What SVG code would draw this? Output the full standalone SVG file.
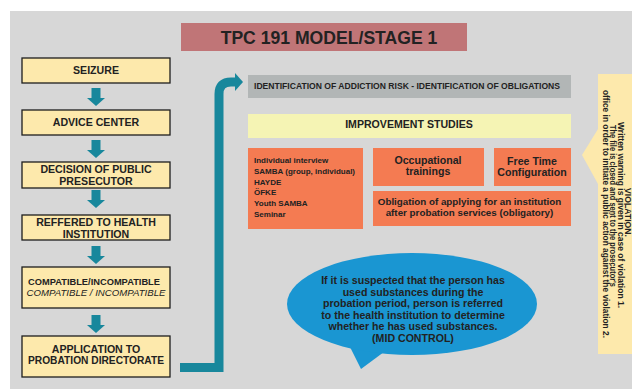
<svg xmlns="http://www.w3.org/2000/svg" width="632" height="389" viewBox="0 0 632 389">
<defs>
<style>
.t{font-family:"Liberation Sans",Arial,sans-serif;font-weight:bold;fill:#222;}
.box{fill:#fde9ac;stroke:#1e1e1e;stroke-width:1.3;}
.org{fill:#f47b52;}
.arr{fill:#18879c;}
.m{text-anchor:middle;}
</style>
<path id="da" d="M-4.5 0 H4.5 V10 H9 L0 18 L-9 10 H-4.5 Z"/>
</defs>
<rect width="632" height="389" fill="#ffffff"/>
<rect x="10" y="11" width="622" height="378" fill="#d7d7d7"/>

<g id="title">
<rect x="181" y="23" width="286" height="28" fill="#c07577"/>
<text class="t m" x="329" y="44" font-size="17.6">TPC 191 MODEL/STAGE 1</text>
</g>

<g id="seizure">
<rect class="box" x="22" y="58" width="148" height="25"/>
<text class="t m" x="96" y="74" font-size="10.6">SEIZURE</text>
</g>
<g id="advice">
<rect class="box" x="22" y="110" width="148" height="25"/>
<text class="t m" x="96" y="126" font-size="10.6">ADVICE CENTER</text>
</g>
<g id="decision">
<rect class="box" x="22" y="162" width="148" height="26"/>
<text class="t m" x="96" y="173" font-size="10.6">DECISION OF PUBLIC</text>
<text class="t m" x="96" y="185" font-size="10.6">PRESECUTOR</text>
</g>
<g id="referred">
<rect class="box" x="22" y="215" width="148" height="25"/>
<text class="t m" x="96" y="226" font-size="10.6">REFFERED TO HEALTH</text>
<text class="t m" x="96" y="238" font-size="10.6">INSTITUTION</text>
</g>
<g id="compatible">
<rect class="box" x="22" y="267" width="148" height="41"/>
<text class="t m" x="94" y="285" font-size="9" textLength="132" lengthAdjust="spacingAndGlyphs">COMPATIBLE/INCOMPATIBLE</text>
<text x="96" y="296" font-size="9" font-style="italic" text-anchor="middle" fill="#222" font-family="Liberation Sans, Arial, sans-serif" textLength="139" lengthAdjust="spacingAndGlyphs">COMPATIBLE / INCOMPATIBLE</text>
</g>
<g id="application">
<rect class="box" x="22" y="336" width="148" height="41"/>
<text class="t m" x="96" y="353" font-size="10.6">APPLICATION TO</text>
<text class="t m" x="96" y="364" font-size="10.6" textLength="136" lengthAdjust="spacingAndGlyphs">PROBATION DIRECTORATE</text>
</g>

<g id="connectors">
<use href="#da" class="arr" x="96" y="88"/>
<use href="#da" class="arr" x="96" y="140"/>
<use href="#da" class="arr" x="96" y="190"/>
<use href="#da" class="arr" x="96" y="246"/>
<use href="#da" class="arr" x="96" y="315"/>
<path d="M180 367.5 H219 V94 Q219 82 231 82 H236" fill="none" stroke="#18879c" stroke-width="9"/>
<polygon class="arr" points="235,73 243,82 235,91"/>
</g>

<g id="identification">
<rect x="248" y="75" width="323" height="23" fill="#b2b6b6"/>
<text class="t" x="254" y="89" font-size="8.6" textLength="306" lengthAdjust="spacingAndGlyphs">IDENTIFICATION OF ADDICTION RISK - IDENTIFICATION OF OBLIGATIONS</text>
</g>
<g id="improvement">
<rect x="248" y="114" width="323" height="24" fill="#f5f4b4"/>
<text class="t m" x="409" y="128" font-size="10.6">IMPROVEMENT STUDIES</text>
</g>
<g id="programs">
<rect class="org" x="248" y="148" width="115" height="81"/>
<text class="t" font-size="8" x="254" y="163">Individual interview</text>
<text class="t" font-size="8" x="254" y="174">SAMBA (group, individual)</text>
<text class="t" font-size="8" x="254" y="184.5">HAYDE</text>
<text class="t" font-size="8" x="254" y="195">ÖFKE</text>
<text class="t" font-size="8" x="254" y="206">Youth SAMBA</text>
<text class="t" font-size="8" x="254" y="216.5">Seminar</text>
</g>
<g id="occupational">
<rect class="org" x="373" y="148" width="111" height="38"/>
<text class="t m" x="428" y="164" font-size="10.6">Occupational</text>
<text class="t m" x="428" y="175" font-size="10.6">trainings</text>
</g>
<g id="freetime">
<rect class="org" x="494" y="148" width="77" height="38"/>
<text class="t m" x="532" y="165" font-size="10.6">Free Time</text>
<text class="t m" x="532" y="176" font-size="10.6">Configuration</text>
</g>
<g id="obligation">
<rect class="org" x="373" y="191" width="198" height="35"/>
<text class="t m" x="469.5" y="205" font-size="9.8">Obligation of applying for an institution</text>
<text class="t m" x="469.5" y="216" font-size="9.8">after probation services (obligatory)</text>
</g>

<g id="midcontrol">
<polygon points="348,343 361,369 388,349" fill="#1a96d2"/>
<ellipse cx="412" cy="304" rx="125" ry="51" fill="#1a96d2"/>
<text class="t m" font-size="10.6" x="413" y="284">If it is suspected that the person has</text>
<text class="t m" font-size="10.6" x="413" y="295.6">used substances during the</text>
<text class="t m" font-size="10.6" x="413" y="307.2">probation period, person is referred</text>
<text class="t m" font-size="10.6" x="413" y="318.8">to the health institution to determine</text>
<text class="t m" font-size="10.6" x="413" y="330.4">whether he has used substances.</text>
<text class="t m" font-size="10.6" x="413" y="342">(MID CONTROL)</text>
</g>

<g id="violation">
<path d="M598 74 H632 V354 H598 V184 L582 155 L598 129 Z" fill="#fde9ac"/>
<g transform="translate(632,0) rotate(90)">
<text class="t m" font-size="8.2" x="212.5" y="7" textLength="49" lengthAdjust="spacingAndGlyphs">VIOLATION.</text>
<text class="t m" font-size="8.2" x="215" y="14.5" textLength="186" lengthAdjust="spacingAndGlyphs">Written warning is given in case of violation 1.</text>
<text class="t m" font-size="8.2" x="206" y="22" textLength="162" lengthAdjust="spacingAndGlyphs">The file is closed and sent to the prosecutor's</text>
<text class="t m" font-size="8.2" x="214" y="29.5" textLength="248" lengthAdjust="spacingAndGlyphs">office in order to initiate a public action against the violation 2.</text>
</g>
</g>
</svg>
